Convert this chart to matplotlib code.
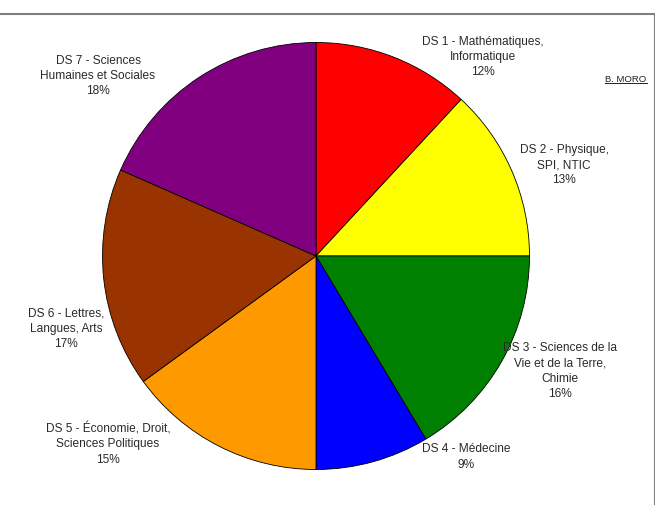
import matplotlib
matplotlib.use("Agg")
import matplotlib.pyplot as plt
from matplotlib.lines import Line2D

plt.rcParams['font.family'] = ['Liberation Sans', 'DejaVu Sans']

labels = [
    "DS 1 - Mathématiques,\nInformatique",
    "DS 2 - Physique,\nSPI, NTIC",
    "DS 3 - Sciences de la\nVie et de la Terre,\nChimie",
    "DS 4 - Médecine",
    "DS 5 - Économie, Droit,\nSciences Politiques",
    "DS 6 - Lettres,\nLangues, Arts",
    "DS 7 - Sciences\nHumaines et Sociales",
]
values = [11.9, 13.1, 16.4, 8.6, 15.0, 16.6, 18.4]
colors = ["#FF0000", "#FFFF00", "#008000", "#0000FF", "#FF9900", "#993300", "#800080"]

# label block centers in pixel coords (x, y from top)
label_pos = [(483, 57), (564, 165), (560, 371), (466, 457),
             (108, 444), (66, 329), (98, 76)]

W, H = 655, 505
fig = plt.figure(figsize=(W / 100, H / 100), dpi=100)
ax = fig.add_axes([0, 0, 1, 1])

cx, cy, r = 316, H - 256, 213.5
ax.pie(values, colors=colors, startangle=90, counterclock=False,
       center=(cx, cy), radius=r, frame=True,
       wedgeprops=dict(edgecolor='black', linewidth=0.6))
ax.set_xlim(0, W)
ax.set_ylim(0, H)
ax.set_aspect('auto')
ax.axis('off')

for lab, v, (px, py) in zip(labels, values, label_pos):
    ax.text(px, H - py, f"{lab}\n{v:.0f}%", ha='center', va='center',
            fontsize=8.6, color='#2a2a2a', linespacing=1.38)

t = ax.text(626, H - 79, "B. MORO", ha='center', va='center', fontsize=6.8, color='#222222')
fig.canvas.draw()
bb = t.get_window_extent().transformed(ax.transData.inverted())
ax.add_line(Line2D([bb.x0, bb.x1], [bb.y0 + 0.5, bb.y0 + 0.5], color='#222222', linewidth=0.7))

# frame lines (top and right)
fig.add_artist(Line2D([0, 654.5 / W], [1 - 13.5 / H, 1 - 13.5 / H], transform=fig.transFigure, color='#808080', linewidth=1.5))
fig.add_artist(Line2D([654.5 / W, 654.5 / W], [0, 1 - 13.5 / H], transform=fig.transFigure, color='#808080', linewidth=1.5))

fig.savefig("out.png", dpi=100)
